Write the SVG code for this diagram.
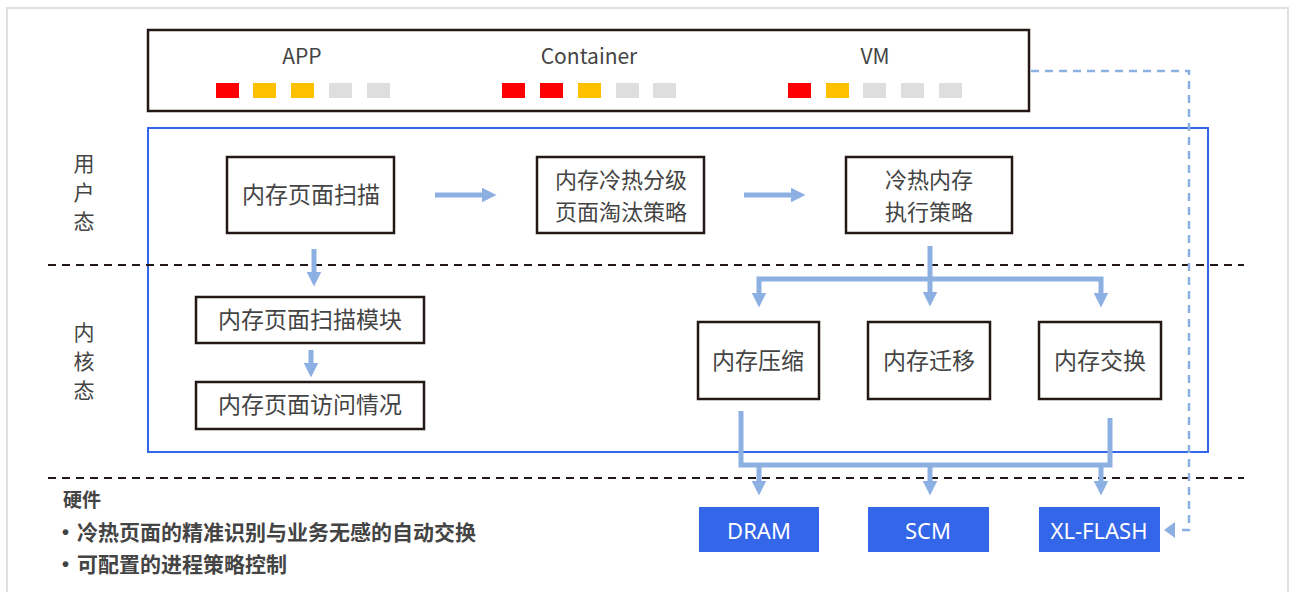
<svg xmlns="http://www.w3.org/2000/svg" width="1290" height="592" viewBox="0 0 1290 592">
<defs>
<style>
.t{font-family:"Noto Sans CJK SC","Noto Sans",sans-serif;fill:#444;}
.box{fill:#fff;stroke:#231815;stroke-width:2.5;}
.bt{font-size:23px;text-anchor:middle;}
.bt2{font-size:22px;text-anchor:middle;}
.hw{fill:#3366e8;}
.hwt{font-family:"Noto Sans","Noto Sans CJK SC",sans-serif;font-size:22px;fill:#fff;text-anchor:middle;}
.ar{fill:none;stroke:#8db0e3;stroke-width:5;}
.sep{stroke:#231815;stroke-width:2;stroke-dasharray:8 6;fill:none;}
.r{fill:#ff0000;}.y{fill:#ffc000;}.g{fill:#dedede;}
.bul{font-family:"Liberation Sans",sans-serif;font-size:20px;font-weight:bold;fill:#444;}
</style>
<marker id="ah" viewBox="0 0 10 10" refX="5" refY="5" markerWidth="3" markerHeight="3" orient="auto" markerUnits="strokeWidth">
<path d="M0,0 L10,5 L0,10 z" fill="#8db0e3"/>
</marker>
</defs>
<rect width="1290" height="592" fill="#fff"/>
<path d="M7,600 V8 H1288 V600" fill="none" stroke="#e0e0e0" stroke-width="2"/>

<g id="sources">
<rect x="148" y="30" width="881" height="81" class="box"/>
<text class="t" x="302" y="64" font-size="21" text-anchor="middle">APP</text>
<text class="t" x="589" y="64" font-size="21" text-anchor="middle">Container</text>
<text class="t" x="875" y="64" font-size="21" text-anchor="middle">VM</text>
<rect class="r" x="216" y="83" width="23" height="15"/><rect class="y" x="253" y="83" width="23" height="15"/><rect class="y" x="291" y="83" width="23" height="15"/><rect class="g" x="329" y="83" width="23" height="15"/><rect class="g" x="367" y="83" width="23" height="15"/>
<rect class="r" x="502" y="83" width="23" height="15"/><rect class="r" x="540" y="83" width="23" height="15"/><rect class="y" x="578" y="83" width="23" height="15"/><rect class="g" x="616" y="83" width="23" height="15"/><rect class="g" x="653" y="83" width="23" height="15"/>
<rect class="r" x="788" y="83" width="23" height="15"/><rect class="y" x="826" y="83" width="23" height="15"/><rect class="g" x="863" y="83" width="23" height="15"/><rect class="g" x="901" y="83" width="23" height="15"/><rect class="g" x="939" y="83" width="23" height="15"/>
</g>

<g id="frame">
<rect x="148" y="128" width="1060" height="324" fill="none" stroke="#3366e8" stroke-width="2"/>
<line class="sep" x1="48" y1="265" x2="1244" y2="265"/>
<line class="sep" x1="48" y1="478" x2="1244" y2="478"/>
</g>

<g id="layer-labels">
<text class="t" font-size="21" text-anchor="middle" fill="#333"><tspan x="84" y="171">用</tspan><tspan x="84" y="200">户</tspan><tspan x="84" y="229">态</tspan></text>
<text class="t" font-size="21" text-anchor="middle"><tspan x="84" y="340">内</tspan><tspan x="84" y="369">核</tspan><tspan x="84" y="398">态</tspan></text>
</g>

<g id="n-scan"><rect class="box" x="227" y="157" width="167" height="76"/><text class="t bt" x="311" y="203">内存页面扫描</text></g>
<g id="n-policy"><rect class="box" x="537" y="157" width="167" height="76"/><text class="t bt2" x="621" y="188">内存冷热分级</text><text class="t bt2" x="621" y="220">页面淘汰策略</text></g>
<g id="n-exec"><rect class="box" x="846" y="157" width="166" height="76"/><text class="t bt2" x="929" y="188">冷热内存</text><text class="t bt2" x="929" y="220">执行策略</text></g>
<g id="n-scanmod"><rect class="box" x="196" y="297" width="228" height="46"/><text class="t bt" x="310" y="328">内存页面扫描模块</text></g>
<g id="n-access"><rect class="box" x="196" y="382" width="228" height="47"/><text class="t bt" x="310" y="413">内存页面访问情况</text></g>
<g id="n-compress"><rect class="box" x="698" y="322" width="121" height="77"/><text class="t bt" x="758" y="369">内存压缩</text></g>
<g id="n-migrate"><rect class="box" x="868" y="322" width="122" height="77"/><text class="t bt" x="929" y="369">内存迁移</text></g>
<g id="n-swap"><rect class="box" x="1039" y="322" width="122" height="77"/><text class="t bt" x="1100" y="369">内存交换</text></g>
<g id="n-dram"><rect class="hw" x="699" y="507" width="120" height="45"/><text class="hwt" x="759" y="539">DRAM</text></g>
<g id="n-scm"><rect class="hw" x="868" y="507" width="121" height="45"/><text class="hwt" x="928" y="539">SCM</text></g>
<g id="n-xlflash"><rect class="hw" x="1039" y="507" width="121" height="45"/><text class="hwt" x="1099" y="539">XL-FLASH</text></g>

<g id="connectors">
<line class="ar" x1="435" y1="195" x2="489" y2="195" marker-end="url(#ah)"/>
<line class="ar" x1="744" y1="195" x2="798" y2="195" marker-end="url(#ah)"/>
<line class="ar" x1="314" y1="249" x2="314" y2="279" marker-end="url(#ah)"/>
<line class="ar" x1="311" y1="350" x2="311" y2="370" marker-end="url(#ah)"/>
<line class="ar" x1="930" y1="246" x2="930" y2="299" marker-end="url(#ah)"/>
<path class="ar" d="M759,300 V279 H1101 V300"/>
<line class="ar" x1="759" y1="298" x2="759" y2="300" marker-end="url(#ah)"/>
<line class="ar" x1="1101" y1="298" x2="1101" y2="300" marker-end="url(#ah)"/>
<path class="ar" d="M741,411 V465 H1110 V418"/>
<line class="ar" x1="759" y1="465" x2="759" y2="488" marker-end="url(#ah)"/>
<line class="ar" x1="930" y1="465" x2="930" y2="488" marker-end="url(#ah)"/>
<line class="ar" x1="1101" y1="465" x2="1101" y2="488" marker-end="url(#ah)"/>
<path d="M1031,71 H1189 V530 H1176" fill="none" stroke="#8db0e3" stroke-width="2.5" stroke-dasharray="8 6"/>
<path d="M1164,530 L1175,522 L1175,538 z" fill="#8db0e3"/>
</g>

<g id="notes">
<text class="t" x="63" y="507" font-size="19" font-weight="bold" fill="#444">硬件</text>
<text class="bul" x="62" y="539">•</text>
<text class="t" x="77" y="540" font-size="21" font-weight="bold" fill="#444">冷热页面的精准识别与业务无感的自动交换</text>
<text class="bul" x="62" y="571">•</text>
<text class="t" x="77" y="572" font-size="21" font-weight="bold" fill="#444">可配置的进程策略控制</text>
</g>
</svg>
